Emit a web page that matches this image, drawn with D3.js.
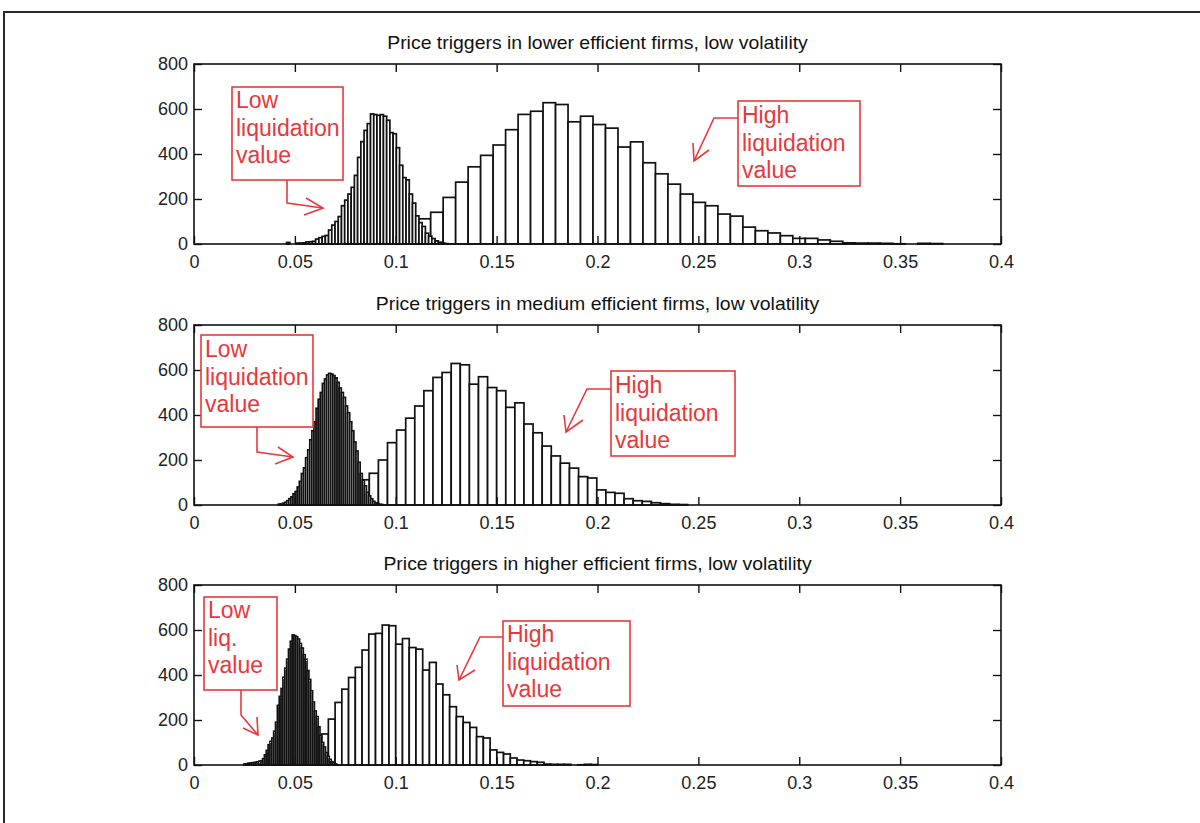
<!DOCTYPE html>
<html>
<head>
<meta charset="utf-8">
<script src="https://cdn.jsdelivr.net/npm/d3@7"></script>
<style>
  body { margin: 0; background: #fff; }
  svg { display: block; }
  text { font-family: "Liberation Sans", Arial, sans-serif; }
</style>
</head>
<body>
<svg id="fig" width="1200" height="823"></svg>
<script>
// ---- axis ticks ----
const xTickValues = [0, 0.05, 0.1, 0.15, 0.2, 0.25, 0.3, 0.35, 0.4];
const yTickValues = [0, 200, 400, 600, 800];

// ---- panel titles ----
const panelTitles = [
  "Price triggers in lower efficient firms, low volatility",
  "Price triggers in medium efficient firms, low volatility",
  "Price triggers in higher efficient firms, low volatility"
];

// ---- histogram counts (first bin edge, bin width, counts) ----
// lower efficient firms
const lowerLowStart = 0.0459, lowerLowWidth = 0.0016;
const lowerLowCounts = [7,0,0,4,4,5,9,10,12,22,28,34,38,62,84,100,122,170,195,222,
  252,305,385,455,505,535,578,575,572,575,568,550,495,490,428,350,295,285,222,182,
  125,95,78,48,35,24,14,8,4,2];
const lowerHighStart = 0.0616, lowerHighWidth = 0.00619;
const lowerHighCounts = [1,3,7,14,25,40,60,85,112,
  141,207,275,343,394,440,508,576,590,628,620,543,568,531,515,431,454,361,312,266,222,
  185,170,133,124,75,59,49,37,25,25,18,12,5,4,4,3,1,0,3,2];

// medium efficient firms
const mediumLowStart = 0.0418, mediumLowWidth = 0.00104;
const mediumLowCounts = [4,4,8,12,19,28,36,50,60,80,105,140,165,210,245,290,330,370,430,470,
  500,540,560,578,585,582,575,565,545,520,500,478,440,410,370,330,280,240,190,140,
  110,85,56,40,28,16,10,6,3,2];
const mediumHighStart = 0.0463, mediumHighWidth = 0.00451;
const mediumHighCounts = [1,3,7,14,25,40,60,85,112,
  141,200,277,333,386,440,508,567,589,629,623,537,570,522,508,434,454,360,321,262,218,
  186,164,126,120,67,56,52,28,19,16,10,6,3,2];

// higher efficient firms
const higherLowStart = 0.0248, higherLowWidth = 0.000918;
const higherLowCounts = [5,3,8,9,10,11,12,14,17,18,28,45,65,90,105,120,150,190,265,305,
  340,390,430,470,515,550,578,575,570,560,540,520,490,470,420,380,330,280,240,215,
  170,130,100,80,55,38,25,15,10,5];
const higherHighStart = 0.0332, higherHighWidth = 0.00334;
const higherHighCounts = [1,3,7,14,25,40,60,85,112,
  138,204,278,337,389,434,511,582,585,622,619,537,562,522,515,422,456,360,312,259,215,
  189,167,126,120,67,56,49,31,22,19,15,12,4,3,3,3,0,1,3,2];

const panels = [
  { title: panelTitles[0],
    high: { start: lowerHighStart, width: lowerHighWidth, counts: lowerHighCounts },
    low:  { start: lowerLowStart,  width: lowerLowWidth,  counts: lowerLowCounts } },
  { title: panelTitles[1],
    high: { start: mediumHighStart, width: mediumHighWidth, counts: mediumHighCounts },
    low:  { start: mediumLowStart,  width: mediumLowWidth,  counts: mediumLowCounts } },
  { title: panelTitles[2],
    high: { start: higherHighStart, width: higherHighWidth, counts: higherHighCounts },
    low:  { start: higherLowStart,  width: higherLowWidth,  counts: higherLowCounts } }
];

// ---- hand-drawn red callouts (pixel layout) ----
const callouts = [
  [ { box: [232, 87, 111, 93], lines: ["Low", "liquidation", "value"], base: 108, step: 27.5,
      path: [[287,180],[287,203],[323,208]], barbs: [[306,198],[304,215]] },
    { box: [738, 101, 122, 85], lines: ["High", "liquidation", "value"], base: 123, step: 27.5,
      path: [[738,118],[714,118],[694,161]], barbs: [[693,143],[709,150]] } ],
  [ { box: [201, 335, 112, 92], lines: ["Low", "liquidation", "value"], base: 357, step: 27.5,
      path: [[257,427],[257,452],[293,457]], barbs: [[278,447],[275,464]] },
    { box: [611, 371, 124, 85], lines: ["High", "liquidation", "value"], base: 393, step: 27.5,
      path: [[611,389],[587,389],[566,432]], barbs: [[564,415],[583,420]] } ],
  [ { box: [204, 597, 73, 93], lines: ["Low", "liq.", "value"], base: 618, step: 27.5,
      path: [[241,690],[241,715],[258,735]], barbs: [[243,728],[257,717]] },
    { box: [503, 621, 127, 85], lines: ["High", "liquidation", "value"], base: 642, step: 27.5,
      path: [[503,637],[480,637],[459,680]], barbs: [[457,665],[475,670]] } ]
];

const W = 1200, H = 823;
const plotLeft = 194, plotRight = 1001, plotHeight = 180;
const plotTops = [64, 325, 585];
const red = "#e8383b";
const ink = "#111";

const svg = d3.select("#fig");
svg.append("rect").attr("width", W).attr("height", H).attr("fill", "#fff");

// page frame
svg.append("path")
  .attr("d", `M4,${H} L4,12 L${W},12`)
  .attr("fill", "none").attr("stroke", "#2a2a2a").attr("stroke-width", 2);

const x = d3.scaleLinear().domain([0, 0.4]).range([plotLeft, plotRight]);
const fmt = d3.format("~g");

function drawHist(g, y, h) {
  const bins = h.counts.map((c, i) => ({
    x0: h.start + i * h.width, x1: h.start + (i + 1) * h.width, c
  })).filter(d => d.c > 0);
  g.append("g").selectAll("rect").data(bins).join("rect")
    .attr("x", d => x(d.x0))
    .attr("width", d => x(d.x1) - x(d.x0))
    .attr("y", d => y(d.c))
    .attr("height", d => y(0) - y(d.c))
    .attr("fill", "#fff")
    .attr("stroke", ink)
    .attr("stroke-width", 1.7);
}

panels.forEach((p, pi) => {
  const top = plotTops[pi];
  const y = d3.scaleLinear().domain([0, 800]).range([top + plotHeight, top]);
  const g = svg.append("g");

  // bars: wide bins first, narrow bins on top
  drawHist(g, y, p.high);
  drawHist(g, y, p.low);

  // axes with inward ticks
  const styleAxis = sel => {
    sel.select(".domain").remove();
    sel.selectAll(".tick line").attr("stroke", ink).attr("stroke-width", 1.4);
    sel.selectAll(".tick text").attr("fill", "#222")
      .style("font-size", "18px").style("font-family", '"Liberation Sans", Arial, sans-serif');
  };
  g.append("g").attr("transform", `translate(0,${top + plotHeight})`)
    .call(d3.axisBottom(x).tickValues(xTickValues).tickFormat(fmt).tickSize(-8).tickPadding(11))
    .call(styleAxis);
  g.append("g").attr("transform", `translate(0,${top})`)
    .call(d3.axisTop(x).tickValues(xTickValues).tickFormat("").tickSize(-8))
    .call(styleAxis);
  g.append("g").attr("transform", `translate(${plotLeft},0)`)
    .call(d3.axisLeft(y).tickValues(yTickValues).tickFormat(d3.format("d")).tickSize(-8).tickPadding(6))
    .call(styleAxis);
  g.append("g").attr("transform", `translate(${plotRight},0)`)
    .call(d3.axisRight(y).tickValues(yTickValues).tickFormat("").tickSize(-8))
    .call(styleAxis);

  g.append("rect")
    .attr("x", plotLeft).attr("y", top)
    .attr("width", plotRight - plotLeft).attr("height", plotHeight)
    .attr("fill", "none").attr("stroke", ink).attr("stroke-width", 1.6);

  // title
  const cx = (plotLeft + plotRight) / 2;
  g.append("text")
    .attr("transform", `translate(${cx},${top - 15}) scale(1.08,1)`)
    .attr("text-anchor", "middle")
    .attr("fill", "#111")
    .style("font-size", "18px")
    .text(p.title);

  // callouts
  callouts[pi].forEach(c => {
    const [bx, by, bw, bh] = c.box;
    g.append("rect").attr("x", bx).attr("y", by).attr("width", bw).attr("height", bh)
      .attr("fill", "#fff").attr("stroke", red).attr("stroke-width", 1.6);
    c.lines.forEach((t, i) => {
      g.append("text").attr("x", bx + 4).attr("y", c.base + i * c.step)
        .attr("fill", red).style("font-size", "23px").text(t);
    });
    const line = d3.line();
    g.append("path").attr("d", line(c.path))
      .attr("fill", "none").attr("stroke", red).attr("stroke-width", 1.6);
    const tip = c.path[c.path.length - 1];
    g.append("path").attr("d", line([c.barbs[0], tip, c.barbs[1]]))
      .attr("fill", "none").attr("stroke", red).attr("stroke-width", 1.6);
  });
});
</script>
</body>
</html>
